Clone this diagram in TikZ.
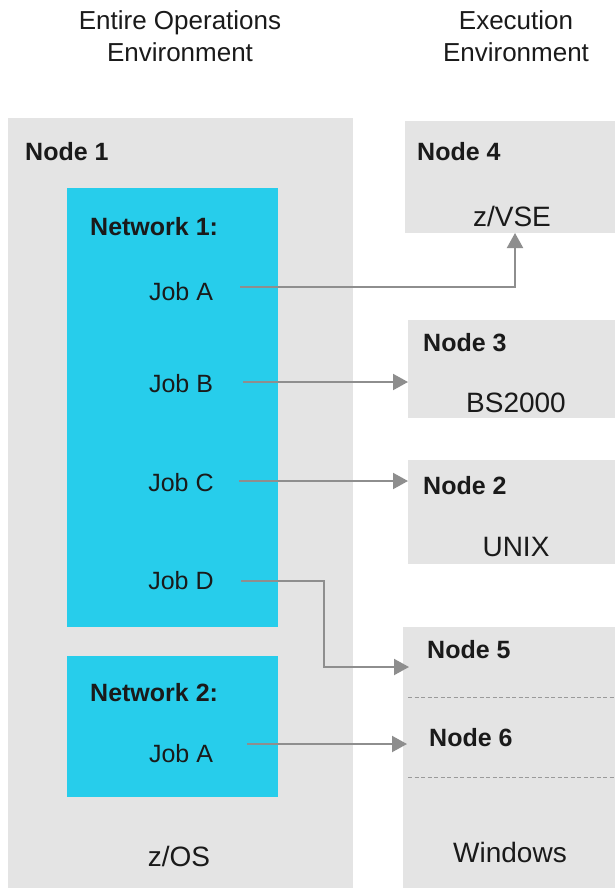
\documentclass[tikz,border=0pt]{standalone}
\usepackage{fontspec}
\setmainfont{Liberation Sans}
\usetikzlibrary{arrows.meta}
\definecolor{boxgray}{HTML}{E4E4E4}
\definecolor{netcyan}{HTML}{27CDEB}
\definecolor{arrgray}{HTML}{8E8E8E}
\definecolor{dashgray}{HTML}{9A9A9A}
\definecolor{txt}{HTML}{1A1A1A}
\begin{document}
\begin{tikzpicture}[x=1pt,y=-1pt,
  graybox/.style={fill=boxgray, draw=none, inner sep=0pt, outer sep=0pt, anchor=north west},
  netbox/.style={fill=netcyan, draw=none, inner sep=0pt, outer sep=0pt, anchor=north west},
  lbl/.style={inner sep=0pt, anchor=base west, text=txt, font=\fontsize{25}{30}\selectfont\bfseries},
  job/.style={inner sep=0pt, anchor=base, text=txt, font=\fontsize{25}{30}\selectfont},
  head/.style={inner sep=0pt, anchor=base, text=txt, font=\fontsize{26}{32}\selectfont},
  oslbl/.style={inner sep=0pt, anchor=base, text=txt, font=\fontsize{28}{34}\selectfont},
  conn/.style={draw=arrgray, line width=2pt, -{Triangle[length=15pt,width=16pt]}},
  dline/.style={draw=dashgray, line width=1pt, dash pattern=on 4pt off 2.5pt},
]
\useasboundingbox (0,0) rectangle (614,888);
\fill[white] (0,0) rectangle (614,888);

% headers
\node[head] (h1a) at (180,30) {Entire Operations};
\node[head] (h1b) at (180,62) {Environment};
\node[head] (h2a) at (516,30) {Execution};
\node[head] (h2b) at (516,62) {Environment};

% boxes
\node[graybox, minimum width=345pt, minimum height=772pt] (n1) at (8,118) {};
\node[netbox, minimum width=211pt, minimum height=439pt] (net1) at (67,188) {};
\node[netbox, minimum width=211pt, minimum height=141pt] (net2) at (67,656) {};
\node[graybox, minimum width=212pt, minimum height=112pt] (n4) at (405,121) {};
\node[graybox, minimum width=209pt, minimum height=98pt] (n3) at (408,320) {};
\node[graybox, minimum width=209pt, minimum height=104pt] (n2) at (408,460) {};
\node[graybox, minimum width=214pt, minimum height=263pt] (n56) at (403,627) {};

% dashed separators
\coordinate (d1) at (408,697);
\coordinate (d2) at (408,777);
\draw[dline] (d1) -- (d1 -| n56.east);
\draw[dline] (d2) -- (d2 -| n56.east);

% labels left
\node[lbl] (t1) at (25,160) {Node 1};
\node[lbl] (tn1) at (90,235) {Network 1:};
\node[job] (jA) at (181,300) {Job A};
\node[job] (jB) at (181,392) {Job B};
\node[job] (jC) at (181,491) {Job C};
\node[job] (jD) at (181,589) {Job D};
\node[lbl] (tn2) at (90,701) {Network 2:};
\node[job] (jA2) at (181,762) {Job A};
\node[oslbl] (zos) at (179,866) {z/OS};

% labels right
\node[lbl] (t4) at (417,160) {Node 4};
\node[oslbl] (zvse) at (512,226) {z/VSE};
\node[lbl] (t3) at (423,351) {Node 3};
\node[oslbl] (bs) at (516,412) {BS2000};
\node[lbl] (t2) at (423,494) {Node 2};
\node[oslbl] (unix) at (516,556) {UNIX};
\node[lbl] (t5) at (427,658) {Node 5};
\node[lbl] (t6) at (429,746) {Node 6};
\node[oslbl] (win) at (510,862) {Windows};

% connectors
\coordinate (sA) at (240,287);
\coordinate (sB) at (243,382);
\coordinate (sC) at (239,481);
\coordinate (sD) at (241,581);
\coordinate (sE) at (247,744);
\coordinate (eD) at (409,667);
\coordinate (eE) at (407,744);
\draw[conn] (sA) -| ([xshift=4pt]n4.south);
\draw[conn] (sB) -- (sB -| n3.west);
\draw[conn] (sC) -- (sC -| n2.west);
\draw[conn] (sD) -- ++(83,0) |- (eD);
\draw[conn] (sE) -- (eE);
\end{tikzpicture}
\end{document}
